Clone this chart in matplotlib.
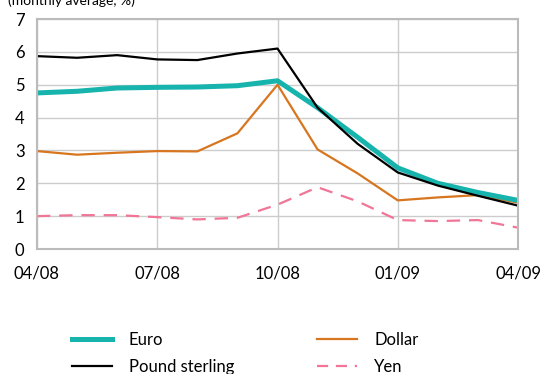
import matplotlib.pyplot as plt
from matplotlib.lines import Line2D

plt.rcParams['font.family'] = ['Lato', 'DejaVu Sans']

# monthly averages, 04/08 .. 04/09
months = list(range(13))
tick_pos = [0, 3, 6, 9, 12]
tick_labels = ['04/08', '07/08', '10/08', '01/09', '04/09']

euro = [4.75, 4.80, 4.90, 4.92, 4.93, 4.97, 5.12, 4.30, 3.40, 2.47, 2.00, 1.72, 1.48]
pound = [5.87, 5.82, 5.90, 5.77, 5.75, 5.95, 6.10, 4.30, 3.20, 2.33, 1.93, 1.62, 1.32]
dollar = [2.98, 2.87, 2.93, 2.98, 2.97, 3.52, 5.00, 3.03, 2.30, 1.48, 1.57, 1.64, 1.41]
yen = [1.00, 1.03, 1.03, 0.97, 0.90, 0.95, 1.35, 1.88, 1.45, 0.88, 0.85, 0.88, 0.65]

c_euro = '#17b3ad'
c_pound = '#000000'
c_dollar = '#d7761f'
c_yen = '#f07596'

fig = plt.figure(figsize=(5.41, 3.74), dpi=100)
ax = fig.add_axes([37 / 541, 1 - 249 / 374, 481 / 541, 230 / 374])

ax.plot(months, dollar, color=c_dollar, lw=1.6)
ax.plot(months, yen, color=c_yen, lw=1.6, dashes=(6, 4))
ax.plot(months, euro, color=c_euro, lw=3.6)
ax.plot(months, pound, color=c_pound, lw=1.6)

ax.set_xlim(0, 12)
ax.set_ylim(0, 7)
ax.set_xticks(tick_pos)
ax.set_xticklabels(tick_labels)
ax.set_yticks(range(8))
ax.grid(True, color='#cccccc', lw=1)
ax.set_axisbelow(True)
ax.tick_params(length=0, labelsize=12, pad=12)
ax.tick_params(axis='y', pad=9)
for sp in ax.spines.values():
    sp.set_color('#bbbbbb')
    sp.set_linewidth(1.5)

fig.text(8 / 541, 1 - 1 / 374, '(monthly average, %)', fontsize=10,
         va='center', ha='left')

handles = [
    Line2D([], [], color=c_euro, lw=3.6),
    Line2D([], [], color=c_pound, lw=1.6),
    Line2D([], [], color=c_dollar, lw=1.6),
    Line2D([], [], color=c_yen, lw=1.6, dashes=(5, 3.5)),
]
labels = ['Euro', 'Pound sterling', 'Dollar', 'Yen']
fig.legend(handles, labels, ncol=2, frameon=False, fontsize=12,
           loc='upper left', bbox_to_anchor=(57 / 541, 1 - 317 / 374),
           handlelength=2.4, handletextpad=1.0, columnspacing=5.0,
           labelspacing=0.65)

fig.savefig('out.png', dpi=100)
